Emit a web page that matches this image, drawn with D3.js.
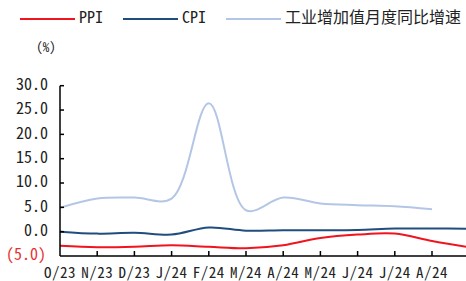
<!DOCTYPE html>
<html>
<head>
<meta charset="utf-8">
<script src="https://cdn.jsdelivr.net/npm/d3@7"></script>
<style>
  body { margin: 0; background: #fff; }
  svg { display: block; }
  text { font-family: "Noto Sans Mono CJK SC", "Noto Sans CJK SC", "DejaVu Sans Mono", sans-serif; fill: #222; }
</style>
</head>
<body>
<svg id="chart" width="466" height="281"></svg>
<script>
// 月份标签
const months = ["O/23", "N/23", "D/23", "J/24", "F/24", "M/24", "A/24", "M/24", "J/24", "J/24", "A/24"];
// PPI / CPI 多一个点(9月), 画到右边界外
const ppi = [-2.9, -3.2, -3.1, -2.8, -3.1, -3.4, -2.8, -1.3, -0.6, -0.4, -1.9, -3.2];
const cpi = [0.0, -0.4, -0.2, -0.6, 0.85, 0.2, 0.3, 0.3, 0.35, 0.65, 0.65, 0.6];
const industry = [4.9, 6.8, 7.0, 6.8, 26.4, 4.4, 7.0, 5.8, 5.45, 5.2, 4.6];
const yTicks = [-5, 0, 5, 10, 15, 20, 25, 30];

const svg = d3.select("#chart");
const plotLeft = 60, plotBottom = 256, plotTop = 85.7;
const step = 37.2;

const x = d3.scaleLinear().domain([0, 1]).range([plotLeft, plotLeft + step]);
const y = d3.scaleLinear().domain([-5, 30]).range([plotBottom, plotTop]);

// 线
const line = d3.line()
    .x((d, i) => x(i))
    .y(d => y(d))
    .curve(d3.curveCatmullRom.alpha(0.5));

const series = [
    {name: "PPI", values: ppi, color: "#f0141e"},
    {name: "CPI", values: cpi, color: "#1f4e7e"},
    {name: "工业增加值月度同比增速", values: industry, color: "#b4c6e6"}
];

series.slice().reverse().forEach(s => {
    svg.append("path")
        .attr("d", line(s.values))
        .attr("fill", "none")
        .attr("stroke", s.color)
        .attr("stroke-width", 2);
});

// y轴
svg.append("line")
    .attr("x1", plotLeft).attr("y1", y(30))
    .attr("x2", plotLeft).attr("y2", plotBottom)
    .attr("stroke", "black").attr("stroke-width", 1.5);
yTicks.forEach(v => {
    if (v > -5) {
        svg.append("line")
            .attr("x1", plotLeft).attr("y1", y(v))
            .attr("x2", plotLeft + 4).attr("y2", y(v))
            .attr("stroke", "black").attr("stroke-width", 1.5);
    }
    svg.append("text")
        .text(v < 0 ? "(" + d3.format(".1f")(-v) + ")" : d3.format(".1f")(v))
        .attr("x", v < 0 ? 46 : 48)
        .attr("y", y(v))
        .attr("text-anchor", "end")
        .attr("dominant-baseline", "middle")
        .attr("style", "font-size:16px")
        .style("fill", v < 0 ? "#e8302f" : "#222");
});
svg.append("text")
    .text("(%)")
    .attr("x", 46).attr("y", 48)
    .attr("text-anchor", "middle")
    .attr("dominant-baseline", "middle")
    .attr("style", "font-size:13px");

// x轴
svg.append("line")
    .attr("x1", plotLeft).attr("y1", plotBottom)
    .attr("x2", 466).attr("y2", plotBottom)
    .attr("stroke", "black").attr("stroke-width", 1.5);
months.forEach((m, i) => {
    if (i > 0) {
        svg.append("line")
            .attr("x1", x(i)).attr("y1", plotBottom)
            .attr("x2", x(i)).attr("y2", plotBottom - 5)
            .attr("stroke", "black").attr("stroke-width", 1.5);
    }
    svg.append("text")
        .text(m)
        .attr("x", x(i))
        .attr("y", 274)
        .attr("text-anchor", "middle")
        .attr("dominant-baseline", "middle")
        .attr("style", "font-size:15px; letter-spacing:0.5px");
});

// 图例
const legendPos = [20, 123, 226];
series.forEach((s, i) => {
    const lx = legendPos[i];
    svg.append("line")
        .attr("x1", lx).attr("y1", 19)
        .attr("x2", lx + 55).attr("y2", 19)
        .attr("stroke", s.color).attr("stroke-width", 2);
    svg.append("text")
        .text(s.name)
        .attr("x", lx + 59)
        .attr("y", 19)
        .attr("dominant-baseline", "middle")
        .attr("style", "font-size:16px");
});
</script>
</body>
</html>
